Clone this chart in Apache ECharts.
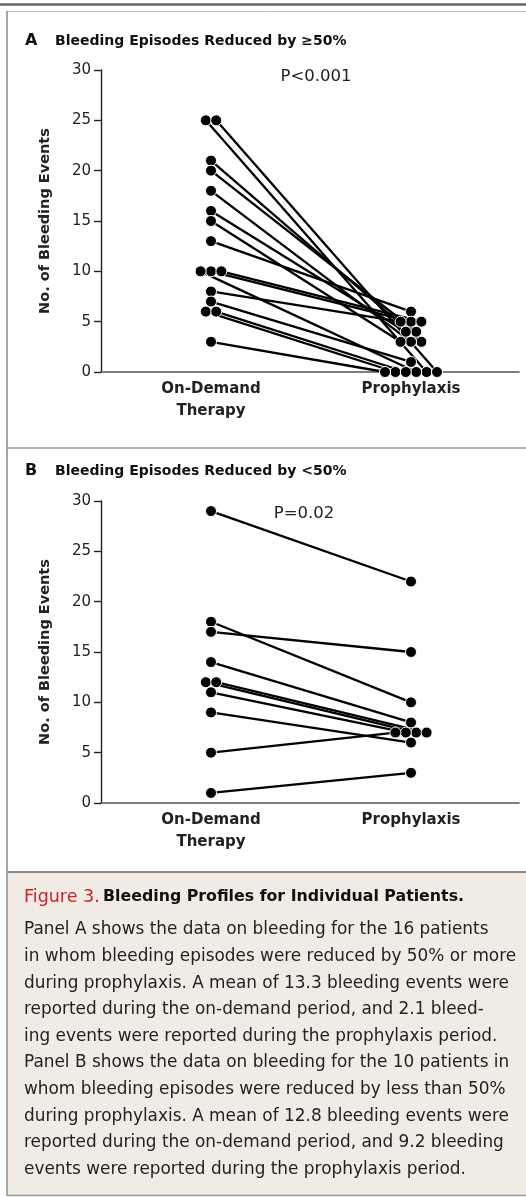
<!DOCTYPE html>
<html lang="en">
<head>
<meta charset="utf-8">
<title>Bleeding Profiles for Individual Patients</title>
<script src="https://cdn.jsdelivr.net/npm/echarts@6/dist/echarts.min.js"></script>
<style>
  html, body { margin: 0; padding: 0; background: #fff; }
  #main { width: 526px; height: 1197px; }
</style>
</head>
<body>
<div id="main"></div>
<script>
// panel A: bleeding reduced by >=50%, one entry per patient
var demandA = [25, 25, 21, 20, 18, 16, 15, 13, 10, 10, 10, 8, 7, 6, 6, 3];
var prophyA = [0, 0, 3, 4, 3, 4, 3, 6, 5, 5, 0, 5, 1, 0, 0, 0];
// panel B: bleeding reduced by <50%
var demandB = [29, 18, 17, 14, 12, 12, 11, 9, 5, 1];
var prophyB = [22, 10, 15, 8, 7, 7, 7, 6, 7, 3];

var periods = ['On-Demand\nTherapy', 'Prophylaxis'];
var yTicks = [0, 5, 10, 15, 20, 25, 30];
var pValues = ['P<0.001', 'P=0.02'];

var FONT = 'DejaVu Sans';
var JIT = 0.052; // horizontal spread of tied dots, in x units

// spread tied values side by side, ordered by the other period's value
function spread(vals, other) {
  var off = [];
  var groups = {};
  vals.forEach(function (v, i) { (groups[v] = groups[v] || []).push(i); });
  Object.keys(groups).forEach(function (k) {
    var g = groups[k].slice().sort(function (a, b) { return other[a] - other[b] || a - b; });
    g.forEach(function (idx, j) { off[idx] = (j - (g.length - 1) / 2) * JIT; });
  });
  return off;
}

function panelSeries(demand, prophy, axisIdx) {
  var o1 = spread(demand, prophy);
  var o2 = spread(prophy, demand);
  var out = [];
  var dots = [];
  demand.forEach(function (d, i) {
    var a = [0 + o1[i], d], b = [1 + o2[i], prophy[i]];
    out.push({
      type: 'line', xAxisIndex: axisIdx, yAxisIndex: axisIdx,
      data: [a, b], showSymbol: false, silent: true, z: 2,
      lineStyle: { color: '#000', width: 2.3 }
    });
    dots.push(a, b);
  });
  out.push({
    type: 'scatter', xAxisIndex: axisIdx, yAxisIndex: axisIdx, data: dots, z: 3,
    symbolSize: 11, itemStyle: { color: '#000', borderColor: '#fff', borderWidth: 1, opacity: 1 }
  });
  return out;
}

function xAxis(gi) {
  return {
    type: 'value', gridIndex: gi, min: -0.55, max: 1.54,
    axisLine: { show: true, onZero: false, lineStyle: { color: '#555', width: 1.6 } },
    axisTick: { show: false }, splitLine: { show: false },
    axisLabel: {
      customValues: [0, 1], margin: 6,
      formatter: function (v) { return periods[Math.round(v)]; },
      fontFamily: FONT, fontWeight: 'bold', fontSize: 15, color: '#222', lineHeight: 22
    }
  };
}

function yAxis(gi) {
  return {
    type: 'value', gridIndex: gi, min: 0, max: 30, interval: 5,
    name: 'No. of Bleeding Events', nameLocation: 'middle', nameGap: 48, nameRotate: 90,
    nameTextStyle: { fontFamily: FONT, fontWeight: 'bold', fontSize: 14.5, color: '#222' },
    axisLine: { show: true, onZero: false, lineStyle: { color: '#222', width: 1.4 } },
    axisTick: { show: true, length: 7, lineStyle: { color: '#222', width: 1.4 } },
    splitLine: { show: false },
    axisLabel: {
      margin: 10, fontFamily: FONT, fontSize: 15, color: '#222',
      formatter: function (v) { return yTicks.indexOf(v) >= 0 ? String(v) : ''; }
    }
  };
}

var caption = [
  'Panel A shows the data on bleeding for the 16 patients',
  'in whom bleeding episodes were reduced by 50% or more',
  'during prophylaxis. A mean of 13.3 bleeding events were',
  'reported during the on-demand period, and 2.1 bleed-',
  'ing events were reported during the prophylaxis period.',
  'Panel B shows the data on bleeding for the 10 patients in',
  'whom bleeding episodes were reduced by less than 50%',
  'during prophylaxis. A mean of 12.8 bleeding events were',
  'reported during the on-demand period, and 9.2 bleeding',
  'events were reported during the prophylaxis period.'
];

function txt(x, y, s, opt) {
  opt = opt || {};
  return {
    type: 'text', x: x, y: y, silent: true,
    style: {
      text: s, fill: opt.color || '#222', fontFamily: FONT,
      fontSize: opt.size || 15, fontWeight: opt.weight || 'normal',
      textAlign: opt.align || 'left', textVerticalAlign: 'middle'
    }
  };
}

function hline(y, x1, x2, color, w) {
  return { type: 'line', silent: true, shape: { x1: x1, y1: y, x2: x2, y2: y },
    style: { stroke: color, lineWidth: w } };
}

var graphics = [
  { type: 'rect', silent: true, shape: { x: 8, y: 872, width: 518, height: 323 },
    style: { fill: '#f1ebe5' } },
  hline(4.5, 0, 526, '#666', 2.5),
  hline(11.5, 7, 526, '#bbb', 1),
  { type: 'line', silent: true, shape: { x1: 7, y1: 11, x2: 7, y2: 1196 },
    style: { stroke: '#888', lineWidth: 1.5 } },
  hline(448, 7, 526, '#999', 1.5),
  hline(872, 7, 526, '#888', 2),
  hline(1195.5, 7, 526, '#999', 1.5),
  txt(25, 41, 'A', { weight: 'bold', size: 16, color: '#111' }),
  txt(55, 41, 'Bleeding Episodes Reduced by \u226550%', { weight: 'bold', size: 14, color: '#111' }),
  txt(25, 471, 'B', { weight: 'bold', size: 16, color: '#111' }),
  txt(55, 471, 'Bleeding Episodes Reduced by <50%', { weight: 'bold', size: 14, color: '#111' }),
  txt(316, 77, pValues[0], { size: 16.5, align: 'center' }),
  txt(304, 514, pValues[1], { size: 16.5, align: 'center' }),
  {
    type: 'text', x: 24, y: 897, silent: true,
    style: {
      text: '{r|Figure 3.} {b|Bleeding Profiles for Individual Patients.}',
      textVerticalAlign: 'middle',
      rich: {
        r: { fill: '#c8242c', fontFamily: FONT, fontSize: 17.5 },
        b: { fill: '#111', fontFamily: FONT, fontSize: 15.8, fontWeight: 'bold' }
      }
    }
  }
];
caption.forEach(function (line, i) {
  graphics.push(txt(24, 930 + i * 26.6, line, { size: 16.9, color: '#222' }));
});

var chart = echarts.init(document.getElementById('main'), null, { renderer: 'canvas' });
chart.setOption({
  animation: false,
  backgroundColor: '#fff',
  grid: [
    { left: 101, top: 70, width: 418, height: 302 },
    { left: 101, top: 501, width: 418, height: 302 }
  ],
  xAxis: [xAxis(0), xAxis(1)],
  yAxis: [yAxis(0), yAxis(1)],
  series: panelSeries(demandA, prophyA, 0).concat(panelSeries(demandB, prophyB, 1)),
  graphic: graphics
});
</script>
</body>
</html>
